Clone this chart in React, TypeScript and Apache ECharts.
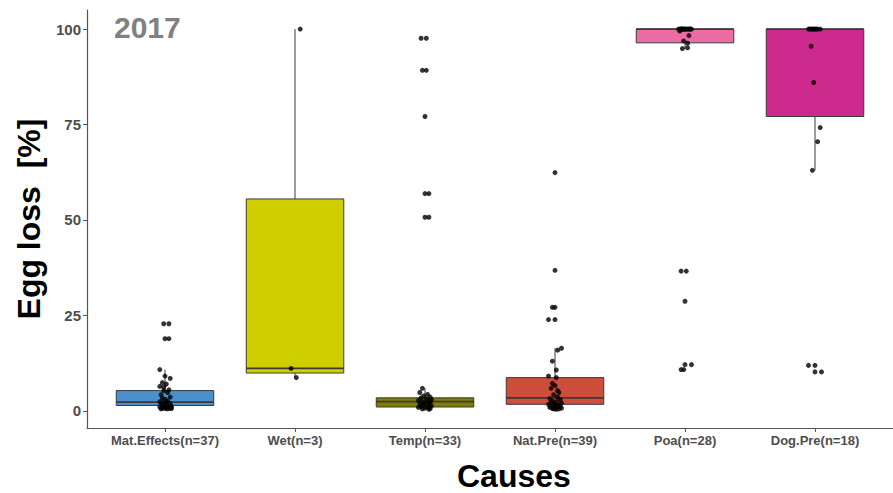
import React, { useEffect, useRef } from "react";
import * as echarts from "echarts";

// Causes of egg loss and the share of eggs lost per nest (%)
const categories = [
  "Mat.Effects(n=37)",
  "Wet(n=3)",
  "Temp(n=33)",
  "Nat.Pre(n=39)",
  "Poa(n=28)",
  "Dog.Pre(n=18)",
];

const boxColors = ["#4a90cd", "#cfcf00", "#807e00", "#cd4f3b", "#ee6ca5", "#cd2a8e"];

// Box statistics per cause: whisker ends, quartiles and median
const boxLow = [0.5, 8.7, 0.4, 0.4, 94.8, 63.0];
const boxQ1 = [1.4, 9.9, 1.0, 1.7, 96.4, 77.1];
const boxMedian = [2.3, 11.1, 2.4, 3.4, 100, 100];
const boxQ3 = [5.3, 55.5, 3.4, 8.7, 100, 100];
const boxHigh = [10.8, 100, 5.9, 16.4, 100, 100];

// Individual nests (loss %) with their horizontal jitter in category units
const matEffectsLoss = [
  22.8, 22.8, 18.9, 18.9, 10.8, 9.1, 8.5, 7.4, 7.0, 6.4, 6.2, 5.5, 5.3, 4.8, 4.2, 3.6, 3.3, 3.0, 2.6,
  2.4, 2.2, 2.0, 1.9, 1.7, 1.5, 1.4, 1.3, 1.1, 1.0, 0.9, 0.8, 0.7, 0.7, 0.6, 0.5, 0.5, 0.6,
];
const matEffectsJitter = [
  -0.01, 0.03, 0.0, 0.03, -0.04, 0.0, 0.04, -0.02, 0.01, -0.04, -0.01, 0.03, -0.01, 0.02, -0.03, 0.04,
  -0.02, 0.0, 0.02, -0.04, 0.01, -0.02, 0.04, 0.0, -0.03, 0.02, -0.01, 0.05, -0.04, 0.01, 0.03, -0.02,
  0.04, 0.0, -0.03, 0.02, 0.05,
];

const wetLoss = [100, 11.1, 8.7];
const wetJitter = [0.04, -0.03, 0.01];

const tempLoss = [
  97.6, 97.6, 89.2, 89.2, 77.1, 56.9, 56.9, 50.7, 50.7, 5.9, 4.8, 4.3, 3.9, 3.6, 3.4, 3.1, 2.9, 2.7,
  2.5, 2.4, 2.2, 2.0, 1.8, 1.7, 1.5, 1.3, 1.2, 1.0, 0.9, 0.7, 0.6, 0.5, 0.4,
];
const tempJitter = [
  -0.03, 0.01, -0.02, 0.01, 0.0, 0.0, 0.03, 0.0, 0.03, -0.02, -0.04, 0.02, -0.01, 0.04, -0.03, 0.01,
  0.05, -0.05, 0.02, -0.02, 0.04, 0.0, -0.04, 0.03, -0.01, 0.05, -0.03, 0.02, -0.05, 0.0, 0.04, -0.02,
  0.03,
];

const natPreLoss = [
  62.4, 36.8, 27.1, 27.1, 23.9, 23.9, 16.4, 15.9, 13.0, 10.7, 9.1, 8.7, 7.2, 6.6, 5.9, 5.3, 4.8, 4.2,
  3.6, 3.2, 2.9, 2.6, 2.4, 2.2, 2.0, 1.8, 1.7, 1.5, 1.4, 1.2, 1.1, 1.0, 0.9, 0.8, 0.7, 0.6, 0.5, 0.5,
  0.4,
];
const natPreJitter = [
  0.0, 0.0, -0.02, 0.0, -0.05, 0.0, 0.05, 0.02, -0.02, 0.01, -0.05, 0.01, -0.02, 0.0, -0.03, 0.02,
  0.03, -0.01, 0.02, -0.04, 0.04, -0.02, 0.01, -0.03, 0.05, 0.0, -0.05, 0.03, -0.01, 0.04, -0.03,
  0.02, -0.04, 0.0, 0.05, -0.02, 0.03, -0.01, 0.01,
];

const poaLoss = [
  100, 100, 100, 100, 100, 100, 100, 100, 100, 100, 100, 100, 100, 100, 100, 99.5, 98.3, 96.9, 96.3,
  95.1, 94.9, 36.6, 36.6, 28.7, 12.1, 12.1, 10.8, 10.8,
];
const poaJitter = [
  -0.05, -0.04, -0.03, -0.03, -0.02, -0.01, 0.0, 0.0, 0.01, 0.02, 0.03, 0.04, 0.04, 0.05, -0.02,
  -0.04, 0.03, -0.01, 0.02, 0.02, -0.02, -0.03, 0.01, 0.0, 0.0, 0.05, -0.03, -0.01,
];

const dogPreLoss = [100, 100, 100, 100, 100, 100, 100, 100, 100, 95.5, 86.0, 74.2, 70.5, 63.0, 11.9, 11.9, 10.2, 10.2];
const dogPreJitter = [
  -0.05, -0.04, -0.03, -0.02, -0.01, 0.0, 0.01, 0.02, 0.04, -0.03, -0.01, 0.04, 0.02, -0.02, -0.05,
  0.0, 0.0, 0.05,
];

const yTicks = [0, 25, 50, 75, 100];
const categoryTicks = [0, 1, 2, 3, 4, 5];

const pointGroups = [
  [matEffectsLoss, matEffectsJitter],
  [wetLoss, wetJitter],
  [tempLoss, tempJitter],
  [natPreLoss, natPreJitter],
  [poaLoss, poaJitter],
  [dogPreLoss, dogPreJitter],
];

const FONT = "'Liberation Sans', Arial, sans-serif";

export default function App() {
  const ref = useRef<HTMLDivElement>(null);

  useEffect(() => {
    if (!ref.current) return;
    const chart = echarts.init(ref.current, null, { renderer: "svg" });

    const boxData = categories.map((_, i) => [i, boxLow[i], boxQ1[i], boxMedian[i], boxQ3[i], boxHigh[i]]);
    const points: number[][] = [];
    pointGroups.forEach(([vals, jit], i) => {
      vals.forEach((v, k) => points.push([i + jit[k], v]));
    });

    chart.setOption({
      animation: false,
      backgroundColor: "#ffffff",
      textStyle: { fontFamily: FONT },
      grid: { left: 87, right: -8, top: 10, bottom: 65 },
      xAxis: {
        type: "value",
        min: -0.6,
        max: 5.6,
        splitLine: { show: false },
        axisLine: { show: true, onZero: false, lineStyle: { color: "#555555", width: 1.2 } },
        axisTick: {
          show: true,
          length: 4,
          customValues: categoryTicks,
          lineStyle: { color: "#555555" },
        },
        axisLabel: {
          customValues: categoryTicks,
          formatter: (v: number) => categories[Math.round(v)] ?? "",
          fontFamily: FONT,
          fontWeight: "bold",
          fontSize: 13,
          color: "#4d4d4d",
          margin: 6,
        },
      },
      yAxis: {
        type: "value",
        min: -4.5,
        max: 105,
        name: "Egg loss  [%]",
        nameLocation: "middle",
        nameGap: 41,
        nameTextStyle: { fontFamily: FONT, fontWeight: "bold", fontSize: 32, color: "#000000" },
        splitLine: { show: false },
        axisLine: { show: true, onZero: false, lineStyle: { color: "#555555", width: 1.2 } },
        axisTick: { show: true, length: 4, customValues: yTicks, lineStyle: { color: "#555555" } },
        axisLabel: {
          customValues: yTicks,
          fontFamily: FONT,
          fontWeight: "bold",
          fontSize: 15,
          color: "#4d4d4d",
          margin: 6,
        },
      },
      graphic: [
        {
          type: "text",
          left: 114,
          top: 12,
          style: { text: "2017", font: `bold 30px ${FONT}`, fill: "#808080" },
        },
        {
          type: "text",
          left: 457,
          top: 460,
          style: { text: "Causes", font: `bold 32px ${FONT}`, fill: "#000000", lineHeight: 28 },
        },
      ],
      series: [
        {
          type: "custom",
          data: boxData,
          encode: { x: 0, y: [1, 2, 3, 4, 5] },
          renderItem: (params: any, api: any) => {
            const x = api.value(0);
            const lo = api.coord([x, api.value(1)]);
            const q1 = api.coord([x, api.value(2)]);
            const med = api.coord([x, api.value(3)]);
            const q3 = api.coord([x, api.value(4)]);
            const hi = api.coord([x, api.value(5)]);
            const half = api.size([0.75, 0])[0] / 2;
            const stroke = "#3a3a3a";
            return {
              type: "group",
              children: [
                {
                  type: "line",
                  shape: { x1: lo[0], y1: lo[1], x2: q1[0], y2: q1[1] },
                  style: { stroke, lineWidth: 1 },
                },
                {
                  type: "line",
                  shape: { x1: q3[0], y1: q3[1], x2: hi[0], y2: hi[1] },
                  style: { stroke, lineWidth: 1 },
                },
                {
                  type: "rect",
                  shape: { x: q1[0] - half, y: q3[1], width: half * 2, height: Math.max(q1[1] - q3[1], 0.5) },
                  style: { fill: boxColors[params.dataIndex], stroke, lineWidth: 1 },
                },
                {
                  type: "line",
                  shape: { x1: med[0] - half, y1: med[1], x2: med[0] + half, y2: med[1] },
                  style: { stroke, lineWidth: 1.8 },
                },
              ],
            };
          },
          z: 2,
        },
        {
          type: "scatter",
          data: points,
          symbol: "circle",
          symbolSize: 5,
          itemStyle: { color: "#000000" },
          z: 3,
        },
      ],
    });

    return () => chart.dispose();
  }, []);

  return (
    <div
      ref={ref}
      style={{ position: "absolute", left: 0, top: 0, width: 893, height: 493, background: "#fff" }}
    />
  );
}
